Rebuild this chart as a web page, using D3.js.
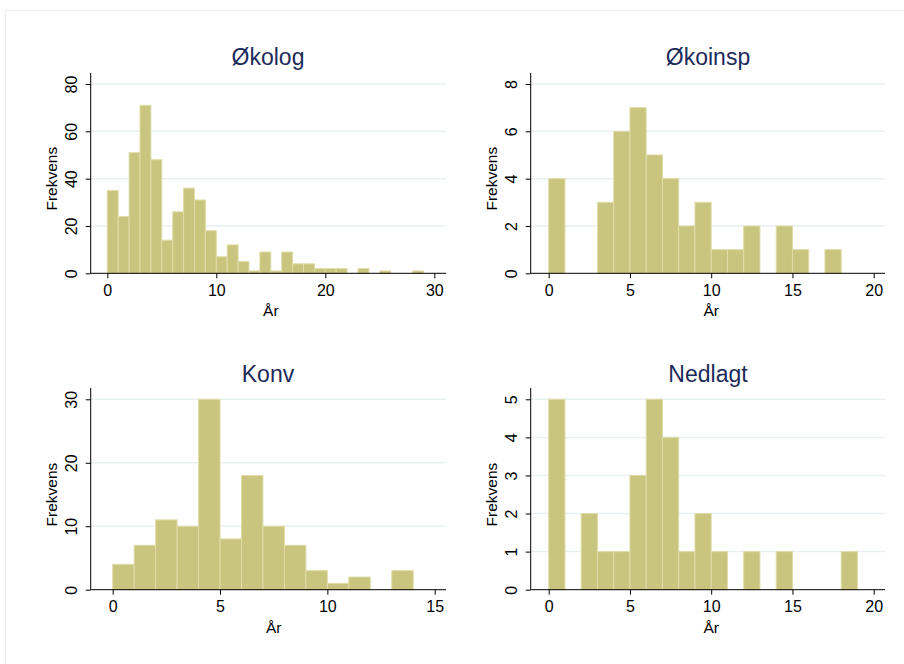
<!DOCTYPE html>
<html><head><meta charset="utf-8">
<script src="https://cdn.jsdelivr.net/npm/d3@7"></script>
<style>body{margin:0;background:#fff;} svg{display:block;font-family:"Liberation Sans",Arial,sans-serif;}</style>
</head><body>
<svg id="c" width="904" height="664"></svg>
<script>
const titles = ["Økolog", "Økoinsp", "Konv", "Nedlagt"];
const okologCounts = [35,24,51,71,48,14,26,36,31,18,7,12,5,1,9,1,9,4,4,2,2,2,0,2,0,1,0,0,1];
const okoinspCounts = [4,0,0,3,6,7,5,4,2,3,1,1,2,0,2,1,0,1];
const konvCounts = [4,7,11,10,30,8,18,10,7,3,1,2,0,3];
const nedlagtCounts = [5,0,2,1,1,3,5,4,1,2,1,0,1,0,1,0,0,0,1];
const xTicks = [[0,10,20,30],[0,5,10,15,20],[0,5,10,15],[0,5,10,15,20]];
const yTicks = [[0,20,40,60,80],[0,2,4,6,8],[0,10,20,30],[0,1,2,3,4,5]];
const xDomains = [[0,30],[0,20],[0,15],[0,20]];
const yDomains = [[0,80],[0,8],[0,30],[0,5]];
const allCounts = [okologCounts, okoinspCounts, konvCounts, nedlagtCounts];
const xLabel = "År", yLabel = "Frekvens";

const layout = [
  {ax:90.7, x0:107.3, x1:434.3, right:446, y0:273.3, y1:84, top:73, tx:268, ty:65},
  {ax:530.7, x0:548.7, x1:873.7, right:885, y0:273.3, y1:84, top:73, tx:708, ty:65},
  {ax:90.7, x0:112.7, x1:434.7, right:446, y0:589.7, y1:399.3, top:388, tx:268, ty:382},
  {ax:530.7, x0:548.7, x1:873.7, right:885, y0:589.7, y1:399.3, top:388, tx:708, ty:382}
];
const FONT = "Liberation Sans, Arial, sans-serif";

const svg = d3.select("#c");
svg.append("rect").attr("x",5.5).attr("y",10.5).attr("width",910).attr("height",700)
  .attr("fill","none").attr("stroke","#eeeeee");

titles.forEach((t,i)=>{
  const L = layout[i];
  const x = d3.scaleLinear().domain(xDomains[i]).range([L.x0, L.x1]);
  const y = d3.scaleLinear().domain(yDomains[i]).range([L.y0, L.y1]);
  const g = svg.append("g");
  g.selectAll("line.grid").data(yTicks[i].filter(v=>v>0)).join("line")
    .attr("x1", L.ax).attr("x2", L.right)
    .attr("y1", d=>y(d)).attr("y2", d=>y(d))
    .attr("stroke","#e8f0f2").attr("stroke-width",1.5);
  const bins = allCounts[i].map((c,k)=>({x0:k, x1:k+1, c}));
  g.selectAll("rect.bar").data(bins.filter(b=>b.c>0)).join("rect")
    .attr("x", d=>x(d.x0)).attr("width", d=>x(d.x1)-x(d.x0))
    .attr("y", d=>y(d.c)).attr("height", d=>y(0)-y(d.c))
    .attr("fill","#c9c47e").attr("stroke","#e0dda8").attr("stroke-width",1);
  const xa = g.append("g").attr("transform",`translate(0,${L.y0})`)
    .call(d3.axisBottom(x).tickValues(xTicks[i]).tickFormat(d3.format("d")).tickSize(5).tickSizeOuter(0).tickPadding(6));
  xa.select(".domain").remove();
  g.append("line").attr("x1",L.ax).attr("x2",L.right).attr("y1",L.y0).attr("y2",L.y0).attr("stroke","#000");
  xa.selectAll("text").attr("font-size",16).attr("fill","#000").attr("font-family",FONT);
  const ya = g.append("g").attr("transform",`translate(${L.ax},0)`)
    .call(d3.axisLeft(y).tickValues(yTicks[i]).tickFormat(d3.format("d")).tickSize(5).tickSizeOuter(0));
  ya.select(".domain").remove();
  g.append("line").attr("x1",L.ax).attr("x2",L.ax).attr("y1",L.top).attr("y2",L.y0).attr("stroke","#000");
  ya.selectAll(".tick text").attr("font-size",16).attr("fill","#000").attr("font-family",FONT)
    .attr("text-anchor","middle")
    .attr("transform","translate(-19,0) rotate(-90)").attr("x",0).attr("y",0).attr("dy","0.35em");
  g.append("text").attr("x",(L.x0+L.x1)/2).attr("y",L.y0+43).attr("text-anchor","middle")
    .attr("font-size",15.5).attr("fill","#000").text(xLabel);
  g.append("text").attr("transform",`translate(${L.ax-34},${(L.y0+L.y1)/2}) rotate(-90)`)
    .attr("text-anchor","middle").attr("font-size",15.5).attr("fill","#000").text(yLabel);
  g.append("text").attr("x",L.tx).attr("y",L.ty).attr("text-anchor","middle")
    .attr("font-size",23).attr("fill","#1c2b5a").text(t);
});
</script>
</body></html>
